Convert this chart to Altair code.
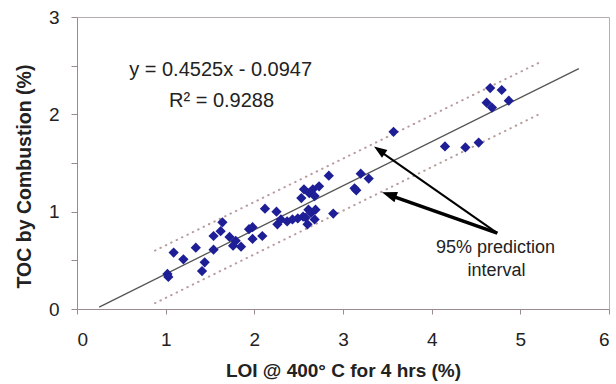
import altair as alt
import pandas as pd

# ---- data ----
loi = [1.02, 1.03, 1.09, 1.20, 1.34, 1.41, 1.44, 1.54, 1.54, 1.62,
       1.64, 1.72, 1.76, 1.79, 1.85, 1.94, 1.98, 1.98, 2.09, 2.12,
       2.25, 2.26, 2.30, 2.37, 2.43, 2.49, 2.53, 2.56, 2.55, 2.58,
       2.60, 2.61, 2.62, 2.66, 2.69, 2.68, 2.73, 2.68, 2.64, 2.84,
       2.89, 3.13, 3.15, 3.20, 3.29, 3.57, 4.15, 4.38, 4.53, 4.62,
       4.66, 4.68, 4.79, 4.87]
toc = [0.36, 0.33, 0.58, 0.51, 0.63, 0.39, 0.48, 0.61, 0.75, 0.80,
       0.89, 0.74, 0.65, 0.70, 0.64, 0.82, 0.84, 0.72, 0.75, 1.03,
       1.00, 0.87, 0.92, 0.90, 0.92, 0.93, 1.14, 1.23, 0.95, 0.94,
       0.87, 1.02, 1.19, 1.23, 1.02, 0.92, 1.26, 1.16, 0.99, 1.37,
       0.98, 1.24, 1.22, 1.39, 1.34, 1.82, 1.67, 1.66, 1.71, 2.12,
       2.27, 2.07, 2.25, 2.14]

fit_x = [0.25, 5.66]
fit_y = [0.02, 2.47]

pi_x = [0.88, 5.21]
pi_upper = [0.60, 2.53]
pi_lower = [0.06, 2.00]

x_ticks = [0, 1, 2, 3, 4, 5, 6]
y_ticks = [0, 0.5, 1, 1.5, 2, 2.5, 3]

eq_text = ["y = 0.4525x - 0.0947", "R\u00b2 = 0.9288"]
eq_x = [1.62, 1.63]
eq_y = [2.39, 2.08]

note_text = ["95% prediction", "interval"]
note_x = [4.72, 4.73]
note_y = [0.58, 0.34]

arrow_start_x = [4.74, 4.74]
arrow_start_y = [0.78, 0.78]
arrow_shaft_x = [3.42, 3.54]
arrow_shaft_y = [1.62, 1.165]
arrow_tip_x = [3.35, 3.44]
arrow_tip_y = [1.67, 1.20]

x_title = "LOI @ 400\u00b0 C for 4 hrs (%)"
y_title = "TOC by Combustion (%)"

# ---- styling ----
FONT = "Liberation Sans"
AXIS_COLOR = "#9a8c8c"
arrow_width = [2.0, 3.6]
head_angle = [305, 289]
head_size = [676, 900]
HEAD_PATH = "M0,0L0.36,1L-0.36,1Z"

xscale = alt.Scale(domain=[0, 6], nice=False, zero=False)
yscale = alt.Scale(domain=[0, 3], nice=False, zero=False)

xaxis = alt.Axis(values=x_ticks, tickSize=5, tickColor=AXIS_COLOR, domainColor=AXIS_COLOR,
                 labelFontSize=19, labelColor="#222222", labelPadding=16, grid=False,
                 titleFontSize=19, titleFontWeight="bold", titleColor="#222222",
                 titleY=67, titleBaseline="alphabetic")
yaxis = alt.Axis(values=y_ticks, tickSize=6, tickColor=AXIS_COLOR, domainColor=AXIS_COLOR,
                 labelFontSize=19, labelColor="#222222", labelPadding=12, grid=False,
                 labelExpr="datum.value % 1 === 0 ? toString(datum.value) : ''",
                 titleFontSize=19.5, titleFontWeight="bold", titleColor="#222222",
                 titleX=-47, titleY=159, titleBaseline="alphabetic")


def X(field):
    return alt.X(f"{field}:Q", scale=xscale, axis=xaxis, title=x_title)


def Y(field):
    return alt.Y(f"{field}:Q", scale=yscale, axis=yaxis, title=y_title)


pts = pd.DataFrame({"x": loi, "y": toc})
fit = pd.DataFrame({"x": fit_x, "y": fit_y})
pi = pd.DataFrame({"x": pi_x * 2, "y": pi_upper + pi_lower,
                   "band": ["upper"] * len(pi_x) + ["lower"] * len(pi_x)})
eq = pd.DataFrame({"x": eq_x, "y": eq_y, "t": eq_text})
note = pd.DataFrame({"x": note_x, "y": note_y, "t": note_text})
arrows = pd.DataFrame({"x": arrow_start_x, "y": arrow_start_y,
                       "x2": arrow_shaft_x, "y2": arrow_shaft_y, "w": arrow_width})
heads = pd.DataFrame({"x": arrow_tip_x, "y": arrow_tip_y, "a": head_angle, "s": head_size})

pi_layer = alt.Chart(pi).mark_line(color="#b89c9c", strokeWidth=2, strokeCap="round",
                                   strokeDash=[0.5, 5.5]).encode(
    x=X("x"), y=Y("y"), detail="band:N")

fit_layer = alt.Chart(fit).mark_line(color="#555555", strokeWidth=1.3).encode(x=X("x"), y=Y("y"))

pt_layer = alt.Chart(pts).mark_point(shape="diamond", filled=True, opacity=1,
                                     color="#1e1e96", size=105).encode(x=X("x"), y=Y("y"))

eq_layer = alt.Chart(eq).mark_text(fontSize=20, color="#222222", align="center",
                                   baseline="alphabetic").encode(x=X("x"), y=Y("y"), text="t:N")

note_layer = alt.Chart(note).mark_text(fontSize=18, color="#222222", align="center",
                                       baseline="alphabetic").encode(x=X("x"), y=Y("y"), text="t:N")

arrow_layer = alt.Chart(arrows).mark_rule(color="black", strokeCap="butt").encode(
    x=X("x"), y=Y("y"), x2="x2:Q", y2="y2:Q",
    strokeWidth=alt.StrokeWidth("w:Q", scale=None, legend=None))

head_layer = alt.Chart(heads).mark_point(shape=HEAD_PATH, filled=True, opacity=1,
                                         color="black").encode(
    x=X("x"), y=Y("y"),
    angle=alt.Angle("a:Q", scale=None),
    size=alt.Size("s:Q", scale=None, legend=None))

chart = alt.layer(pi_layer, fit_layer, pt_layer, eq_layer, note_layer, arrow_layer, head_layer).properties(
    width=532, height=292,
    autosize=alt.AutoSizeParams(type="none"),
    padding={"left": 77, "top": 17, "right": 7, "bottom": 75},
    background="white",
).configure(font=FONT).configure_view(stroke="#b5aeae", strokeWidth=1)

chart.save("out.html", embed_options={"renderer": "svg", "actions": False})
